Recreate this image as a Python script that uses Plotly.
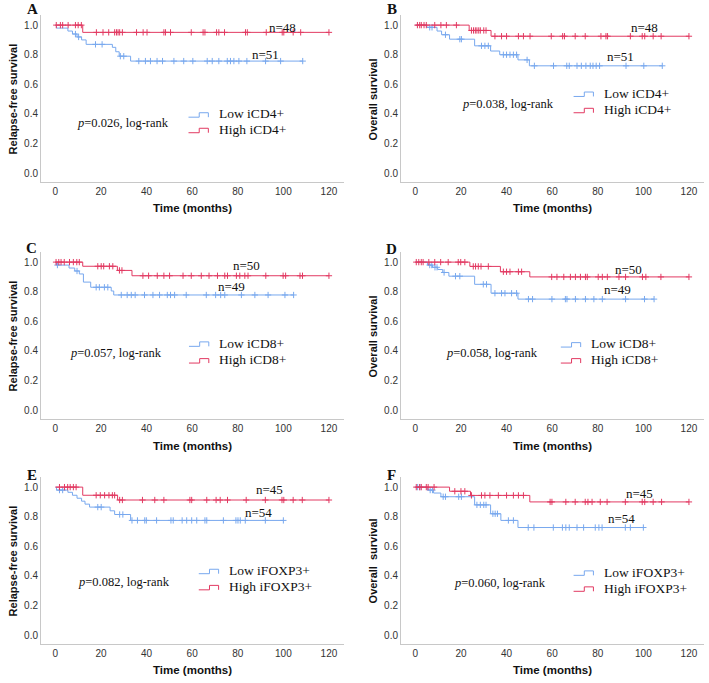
import numpy as np
import plotly.graph_objects as go

# ---------------- data ----------------
# Panel A: relapse-free survival, iCD4+
a_low_t = [0.5, 5.5, 7.5, 9.5, 11.5, 13.5, 25, 26.5, 28, 33]
a_low_s = [0.98, 0.96, 0.94, 0.92, 0.90, 0.87, 0.85, 0.82, 0.79, 0.757]
a_low_c = [8.8, 10.2, 17.6, 20.5, 28.5, 30, 36.6, 39.5, 41.7, 44.6, 47, 52, 56.3, 60.3,
           66.6, 68.8, 71.7, 75.4, 76.8, 78.3, 80.5, 84, 92.2, 98.8, 108.5]
a_high_t = [12]
a_high_s = [0.951]
a_high_c = [0.4, 2.2, 3.2, 5.6, 8.8, 10, 11.4, 18, 20.9, 23.4, 26, 26.8, 27.5, 28.2, 29.4,
            35.6, 38.5, 40.2, 47.6, 48.3, 50.5, 59.6, 64.8, 65.6, 70.7, 71.7, 74.2, 83.4,
            84.2, 92.5, 99.5, 100.2, 104.3, 107.6, 120]

# Panel B: overall survival, iCD4+
b_low_t = [5, 9.5, 11.5, 15, 26, 33, 37, 45, 50]
b_low_s = [0.985, 0.96, 0.935, 0.905, 0.86, 0.825, 0.80, 0.765, 0.725]
b_low_c = [6.3, 7.3, 13.2, 19.5, 20.2, 29, 30.5, 32, 38.6, 40, 41.5, 43, 44.4, 49, 52.2,
           60.6, 66.4, 67.5, 70.9, 72.8, 74.8, 76.7, 77.9, 79.3, 80.8, 92.4, 100.2, 108.3]
b_high_t = [23.6, 33.2]
b_high_s = [0.964, 0.925]
b_high_c = [0.9, 1.9, 2.6, 3.8, 4.8, 8.5, 11.2, 13.6, 18, 24.6, 25.5, 26.3, 27, 27.8, 28.5,
            30, 31, 34.9, 37.8, 40, 45.2, 47.4, 50.3, 59.6, 64.6, 65.4, 70.1, 74.5, 81.4,
            83.6, 84.3, 94.3, 99.5, 100.6, 104.3, 107.8, 120]

# Panel C: relapse-free survival, iCD8+
c_low_t = [0.5, 6, 8.5, 10.5, 12.3, 15.5, 24.5, 25.6]
c_low_s = [0.98, 0.96, 0.94, 0.92, 0.865, 0.83, 0.805, 0.778]
c_low_c = [0.9, 9.5, 17.9, 19.3, 21.5, 23, 28.9, 31.5, 33.3, 35, 39.1, 42.8, 45.7, 49.1,
           50.5, 52.3, 57.4, 66.2, 70.3, 72.5, 74.3, 81.6, 87.5, 93.3, 100.7, 104.5]
c_high_t = [12, 27.2, 33.6]
c_high_s = [0.972, 0.944, 0.908]
c_high_c = [0.3, 1.5, 2.5, 3.9, 6.2, 7.9, 9.4, 10.5, 18.6, 20.1, 21.2, 23.7, 25.2, 28.1,
            29.2, 38.4, 40.9, 44.7, 47.6, 50.1, 56, 59.6, 64, 67.4, 71.1, 74.3, 75.5, 79.4,
            80.9, 83.1, 84.5, 92.3, 99.9, 101, 107.3, 108.4, 120]

# Panel D: overall survival, iCD8+
d_low_t = [5.3, 7.5, 9.8, 12, 14.7, 26, 33.2, 45]
d_low_s = [0.98, 0.965, 0.95, 0.93, 0.905, 0.85, 0.79, 0.75]
d_low_c = [6.3, 7.2, 8.6, 9.5, 12.6, 17.6, 19.5, 29.8, 31.2, 34.9, 37.8, 39.3, 42.2, 44.4,
           49.6, 51.4, 59.9, 65.8, 66.5, 70.2, 74.6, 78.3, 82, 92.2, 100.5, 104.7]
d_high_t = [23.9, 37.3, 50.2]
d_high_s = [0.971, 0.935, 0.90]
d_high_c = [0.4, 1.5, 2.6, 3.4, 5.9, 8.5, 11.1, 14.4, 18.8, 19.9, 21.7, 25.4, 26.4, 27.6,
            28.8, 32, 38.6, 40, 41.5, 45.2, 46.6, 59.8, 62.1, 65.1, 68, 70.2, 72.4, 74.6,
            75.4, 80.2, 82, 84.2, 89.3, 92.2, 99.6, 101.1, 107.7, 120]

# Panel E: relapse-free survival, iFOXP3+
e_low_t = [0.5, 5.5, 7.5, 9.5, 11.5, 13, 15, 24, 26, 33]
e_low_s = [0.98, 0.965, 0.945, 0.925, 0.905, 0.885, 0.865, 0.84, 0.815, 0.775]
e_low_c = [1.8, 3.2, 18.6, 20.1, 28.2, 29.6, 33.6, 36, 39.2, 39.9, 44.4, 50.7, 51.7, 55.6,
           57.6, 59.8, 62, 65.6, 66.4, 73.7, 79.2, 80.1, 81.1, 83.3, 92.1, 100]
e_high_t = [12, 27.3]
e_high_s = [0.945, 0.913]
e_high_c = [1.8, 4, 5.4, 6.5, 7.9, 9.1, 17.9, 19.7, 21.6, 23.5, 25, 26, 28.2, 29.4, 38.2,
            43.6, 47.6, 59, 59.8, 66.4, 70.5, 72.3, 75.5, 83.7, 92.1, 99.4, 100.2, 104.3,
            108.3, 120]

# Panel F: overall survival, iFOXP3+
f_low_t = [5.3, 8, 11.2, 26, 33, 37.5, 45]
f_low_s = [0.98, 0.96, 0.935, 0.88, 0.82, 0.775, 0.727]
f_low_c = [1, 2, 6.5, 7.5, 12.2, 13.2, 19, 20.2, 27, 28.5, 30, 31, 34, 35, 36, 40.8, 43,
           49.5, 52, 60.5, 64.5, 66, 67.5, 70.9, 73.8, 78.9, 80.5, 81.9, 92.1, 94.3, 100]
f_high_t = [15, 24.2, 50.2]
f_high_s = [0.972, 0.944, 0.90]
f_high_c = [0.4, 1.9, 2.6, 4.8, 5.6, 8.2, 17.3, 20, 21.7, 24.6, 29, 30.5, 32.7, 36.4, 40,
            43, 45.2, 47.4, 59.1, 59.9, 66, 70.1, 74.5, 75.7, 77.5, 81.1, 84.1, 92.1, 99.5,
            100.6, 104.3, 108, 120]

panel_letters = ["A", "B", "C", "D", "E", "F"]
y_titles = ["Relapse-free survival", "Overall survival",
            "Relapse-free survival", "Overall survival",
            "Relapse-free survival", "Overall\u00a0 survival"]
low_names = ["Low iCD4+", "Low iCD4+", "Low iCD8+", "Low iCD8+", "Low iFOXP3+", "Low iFOXP3+"]
high_names = ["High iCD4+", "High iCD4+", "High iCD8+", "High iCD8+", "High iFOXP3+", "High iFOXP3+"]
n_low = ["n=51", "n=51", "n=49", "n=49", "n=54", "n=54"]
n_high = ["n=48", "n=48", "n=50", "n=50", "n=45", "n=45"]
p_values = ["0.026", "0.038", "0.057", "0.058", "0.082", "0.060"]
x_ticks = [0, 20, 40, 60, 80, 100, 120]
y_ticks = [0.0, 0.2, 0.4, 0.6, 0.8, 1.0]

curves = [
    (a_low_t, a_low_s, a_low_c, a_high_t, a_high_s, a_high_c),
    (b_low_t, b_low_s, b_low_c, b_high_t, b_high_s, b_high_c),
    (c_low_t, c_low_s, c_low_c, c_high_t, c_high_s, c_high_c),
    (d_low_t, d_low_s, d_low_c, d_high_t, d_high_s, d_high_c),
    (e_low_t, e_low_s, e_low_c, e_high_t, e_high_s, e_high_c),
    (f_low_t, f_low_s, f_low_c, f_high_t, f_high_s, f_high_c),
]

# ---------------- layout / style ----------------
W, H = 709, 683
BLUE = "#78a8ee"
RED = "#e23a62"
AXIS_GRAY = "#c8c8c8"
SERIF = "Liberation Serif, Times New Roman, serif"
SANS = "Liberation Sans, Arial, sans-serif"
X_RANGE = [-6.3, 126.6]
Y_RANGE = [-0.06, 1.07]
PX_PER_UNIT = 148.0

col_px = [(41, 344), (401, 704)]           # x-axis line extent (left, right)
row_bottom_px = [182, 419, 644]            # x-axis line position
ytitle_px = [13.3, 373.3]
xtitle_px = [208.3, 445.7, 670.0]
letter_px = [(32.5, 9.3), (391.7, 9.3), (31.7, 248.3), (391.7, 249.0), (31.7, 475.0), (391.0, 475.0)]

# annotation placements in data coordinates: (n_high x,y), (n_low x,y), (p x,y), (legend text x, y_low, y_high)
text_pos = [
    ((99.5, 0.985), (92.2, 0.80), (29.6, 0.34), (70.7, 0.40, 0.295)),
    ((100.3, 0.985), (90.0, 0.785), (40.8, 0.465), (81.7, 0.54, 0.43)),
    ((83.8, 0.977), (77.2, 0.835), (26.4, 0.385), (70.9, 0.453, 0.34)),
    ((93.4, 0.953), (88.6, 0.813), (33.5, 0.385), (76.1, 0.448, 0.34)),
    ((94.0, 0.984), (89.1, 0.831), (30.0, 0.362), (75.2, 0.437, 0.328)),
    ((98.3, 0.959), (90.3, 0.79), (37.3, 0.351), (81.7, 0.426, 0.318)),
]


def surv_at(t_ev, s_ev, times):
    t_ev = np.asarray(t_ev, dtype=float)
    levels = np.concatenate([[1.0], np.asarray(s_ev, dtype=float)])
    idx = np.searchsorted(t_ev, np.asarray(times, dtype=float), side="right")
    return levels[idx]


def step_xy(t_ev, s_ev, cens):
    end = max(max(cens), max(t_ev))
    xs = [0.0] + list(t_ev) + [end]
    ys = [1.0] + list(s_ev) + [s_ev[-1]]
    return xs, ys


fig = go.Figure()
shapes = []
annotations = []

for i in range(6):
    col = i % 2
    row = i // 2
    ax = "" if i == 0 else str(i + 1)
    xref, yref = "x" + ax, "y" + ax
    bottom = row_bottom_px[row]
    top = bottom - (Y_RANGE[1] - Y_RANGE[0]) * PX_PER_UNIT
    xd = [col_px[col][0] / W, col_px[col][1] / W]
    yd = [(H - bottom) / H, (H - top) / H]

    fig.layout["xaxis" + ax] = dict(
        domain=xd, range=X_RANGE, anchor=yref, tickvals=x_ticks, ticks="",
        showline=True, linecolor=AXIS_GRAY, linewidth=1, showgrid=False, zeroline=False,
        tickfont=dict(family=SANS, size=10, color="#333333"), fixedrange=True,
    )
    fig.layout["yaxis" + ax] = dict(
        domain=yd, range=Y_RANGE, anchor=xref, tickvals=y_ticks, tickformat=".1f",
        ticks="", showline=True, linecolor=AXIS_GRAY, linewidth=1, showgrid=False,
        zeroline=False, tickfont=dict(family=SANS, size=10, color="#333333"), fixedrange=True,
    )

    lt, ls, lc, ht, hs, hc = curves[i]
    for t_ev, s_ev, cens, color in ((lt, ls, lc, BLUE), (ht, hs, hc, RED)):
        xs, ys = step_xy(t_ev, s_ev, cens)
        fig.add_trace(go.Scatter(x=xs, y=ys, mode="lines", line=dict(color=color, width=1, shape="hv"),
                                 xaxis=xref, yaxis=yref, showlegend=False, hoverinfo="skip"))
        fig.add_trace(go.Scatter(x=cens, y=surv_at(t_ev, s_ev, cens), mode="markers",
                                 marker=dict(symbol="cross-thin", size=4.5, line=dict(color=color, width=1)),
                                 xaxis=xref, yaxis=yref, showlegend=False, hoverinfo="skip"))

    (nhx, nhy), (nlx, nly), (px_, py_), (lgx, lgy1, lgy2) = text_pos[i]
    tf = dict(family=SERIF, size=13, color="#111111")
    lf = dict(family=SERIF, size=13.5, color="#111111")
    pf = dict(family=SERIF, size=12.5, color="#111111")
    annotations += [
        dict(x=nhx, y=nhy, xref=xref, yref=yref, text=n_high[i], showarrow=False, font=tf,
             xanchor="center", yanchor="middle"),
        dict(x=nlx, y=nly, xref=xref, yref=yref, text=n_low[i], showarrow=False, font=tf,
             xanchor="center", yanchor="middle"),
        dict(x=px_, y=py_, xref=xref, yref=yref, text="<i>p</i>=" + p_values[i] + ", log-rank",
             showarrow=False, font=pf, xanchor="center", yanchor="middle"),
        dict(x=lgx, y=lgy1, xref=xref, yref=yref, text=low_names[i], showarrow=False, font=lf,
             xanchor="left", yanchor="middle"),
        dict(x=lgx, y=lgy2, xref=xref, yref=yref, text=high_names[i], showarrow=False, font=lf,
             xanchor="left", yanchor="middle"),
    ]
    # legend step symbols
    for ly, color in ((lgy1, BLUE), (lgy2, RED)):
        x0, xm, x1 = lgx - 12.3, lgx - 7.6, lgx - 3.6
        ylo, yhi = ly - 0.022, ly + 0.008
        path = f"M {x0},{ylo} L {xm},{ylo} L {xm},{yhi} L {x1},{yhi} L {x1},{ylo}"
        shapes.append(dict(type="path", path=path, xref=xref, yref=yref,
                           line=dict(color=color, width=1)))

    # axis titles & panel letter
    annotations.append(dict(x=ytitle_px[col] / W, y=(H - (bottom - (0 - Y_RANGE[0]) * PX_PER_UNIT - 74)) / H,
                            xref="paper", yref="paper", text="<b>" + y_titles[i] + "</b>", textangle=-90,
                            showarrow=False, font=dict(family=SANS, size=11, color="#111111"),
                            xanchor="center", yanchor="middle"))
    annotations.append(dict(x=(xd[0] + xd[1]) / 2, y=(H - xtitle_px[row]) / H, xref="paper", yref="paper",
                            text="<b>Time (months)</b>", showarrow=False,
                            font=dict(family=SANS, size=11.5, color="#111111"),
                            xanchor="center", yanchor="middle"))
    lx, ly_ = letter_px[i]
    annotations.append(dict(x=lx / W, y=(H - ly_) / H, xref="paper", yref="paper",
                            text="<b>" + panel_letters[i] + "</b>", showarrow=False,
                            font=dict(family=SERIF, size=15, color="#111111"),
                            xanchor="center", yanchor="middle"))

fig.update_layout(
    width=W, height=H, autosize=False,
    margin=dict(l=0, r=0, t=0, b=0),
    paper_bgcolor="white", plot_bgcolor="white",
    showlegend=False, shapes=shapes, annotations=annotations,
)

fig.write_html("out.html", config={"displayModeBar": False, "staticPlot": True},
               post_script="document.body.style.margin='0';document.body.style.padding='0';")
